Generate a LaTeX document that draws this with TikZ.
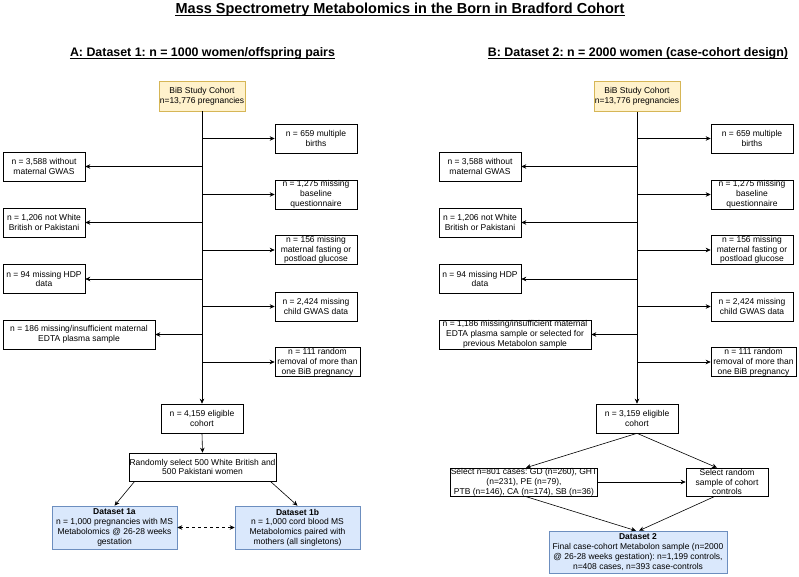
\documentclass[tikz,border=0pt]{standalone}
\usepackage{fontspec}
\setmainfont{Liberation Sans}
\usetikzlibrary{arrows.meta}
\frenchspacing

\definecolor{bibfill}{HTML}{FFF2CC}
\definecolor{bibline}{HTML}{D6B656}
\definecolor{dsfill}{HTML}{DAE8FC}
\definecolor{dsline}{HTML}{6C8EBF}

\begin{document}
\begin{tikzpicture}[x=1pt,y=-1pt]
            \tikzset{box/.style={draw, line width=0.6pt, align=center, inner sep=0pt,
                minimum width=82pt, minimum height=29pt, font=\fontsize{8.5}{9.8}\selectfont}}
            \tikzset{bibbox/.style={box, fill=bibfill, draw=bibline, minimum width=86pt, minimum height=30pt}}
            \tikzset{dsbox/.style={box, fill=dsfill, draw=dsline}}
            \tikzset{arr/.style={-{Stealth[length=5pt,width=4.5pt]}, line width=0.6pt}}
            \tikzset{dblarr/.style={{Stealth[length=5pt,width=4.5pt]}-{Stealth[length=5pt,width=4.5pt]}, line width=0.6pt, dashed}}
            \tikzset{heading/.style={anchor=base, inner sep=0pt, font=\bfseries\fontsize{12.4}{14}\selectfont}}
            \useasboundingbox (0,0) rectangle (799,577);
            % headings
            \node[heading, font=\bfseries\fontsize{14.5}{16}\selectfont] (title) at (400,13.5)
                {Mass Spectrometry Metabolomics in the Born in Bradford Cohort};
            \draw[line width=1pt] ([yshift=-1.8pt]title.base west) -- ([yshift=-1.8pt]title.base east);
            \node[heading] (headA) at (202.5,57) {A: Dataset 1: n = 1000 women/offspring pairs};
            \draw[line width=0.9pt] ([yshift=-1.8pt]headA.base west) -- ([yshift=-1.8pt]headA.base east);
            \node[heading] (headB) at (638,57) {B: Dataset 2: n = 2000 women (case-cohort design)};
            \draw[line width=0.9pt] ([yshift=-1.8pt]headB.base west) -- ([yshift=-1.8pt]headB.base east);
            % panel A
            \node[bibbox] (bibA) at (202,96) {BiB Study Cohort\\n=13,776 pregnancies};
            \node[box] (multA) at (316,138.5) {n = 659 multiple\\births};
            \node[box] (gwasA) at (44,166.5) {n = 3,588 without\\maternal GWAS};
            \node[box] (baseA) at (316,194.5) {n = 1,275 missing\\baseline\\questionnaire};
            \node[box] (ethA) at (44,222.5) {n = 1,206 not White\\British or Pakistani};
            \node[box] (glucA) at (316,250) {n = 156 missing\\maternal fasting or\\postload glucose};
            \node[box] (hdpA) at (44,279) {n = 94 missing HDP\\data};
            \node[box] (childA) at (316,306.5) {n = 2,424 missing\\child GWAS data};
            \node[box, minimum width=152pt] (edtaA) at (79,334.5) {n = 186 missing/insufficient maternal\\EDTA plasma sample};
            \node[box, minimum width=85pt] (remA) at (317.5,362) {n = 111 random\\removal of more than\\one BiB pregnancy};
            \node[box] (eligA) at (202,418.5) {n = 4,159 eligible\\cohort};
            \node[box, minimum width=147pt, minimum height=28pt] (randA) at (202.5,467)
                {Randomly select 500 White British and\\500 Pakistani women};
            \node[dsbox, minimum width=125pt, minimum height=43pt] (dsA) at (114.5,527.5)
                {\textbf{Dataset 1a}\\n = 1,000 pregnancies with MS\\Metabolomics @ 26-28 weeks\\gestation};
            \node[dsbox, minimum width=125pt, minimum height=43pt] (dsB) at (297.5,527.5)
                {\textbf{Dataset 1b}\\n = 1,000 cord blood MS\\Metabolomics paired with\\mothers (all singletons)};
            \draw[arr] (bibA.south) -- (eligA.north);
            \draw[arr] (bibA.south |- multA.west) -- (multA.west);
            \draw[arr] (bibA.south |- gwasA.east) -- (gwasA.east);
            \draw[arr] (bibA.south |- baseA.west) -- (baseA.west);
            \draw[arr] (bibA.south |- ethA.east) -- (ethA.east);
            \draw[arr] (bibA.south |- glucA.west) -- (glucA.west);
            \draw[arr] (bibA.south |- hdpA.east) -- (hdpA.east);
            \draw[arr] (bibA.south |- childA.west) -- (childA.west);
            \draw[arr] (bibA.south |- edtaA.east) -- (edtaA.east);
            \draw[arr] (bibA.south |- remA.west) -- (remA.west);
            \draw[arr] (eligA.south) -- (randA.north);
            \draw[arr] ([xshift=6pt]randA.south west) -- (dsA.north);
            \draw[arr] ([xshift=-6pt]randA.south east) -- (dsB.north);
            \draw[dblarr] (dsA.east) -- (dsB.west);
            % panel B
            \node[bibbox] (bibB) at (637,96.5) {BiB Study Cohort\\n=13,776 pregnancies};
            \node[box] (multB) at (752,138.5) {n = 659 multiple\\births};
            \node[box] (gwasB) at (480,166.5) {n = 3,588 without\\maternal GWAS};
            \node[box] (baseB) at (752,194.5) {n = 1,275 missing\\baseline\\questionnaire};
            \node[box] (ethB) at (480,222.5) {n = 1,206 not White\\British or Pakistani};
            \node[box] (glucB) at (752,250) {n = 156 missing\\maternal fasting or\\postload glucose};
            \node[box] (hdpB) at (480,279) {n = 94 missing HDP\\data};
            \node[box] (childB) at (752,306.5) {n = 2,424 missing\\child GWAS data};
            \node[box, minimum width=152pt] (edtaB) at (515,334.5)
                {n = 1,186 missing/insufficient maternal\\EDTA plasma sample or selected for\\previous Metabolon sample};
            \node[box, minimum width=85pt] (remB) at (753.5,362) {n = 111 random\\removal of more than\\one BiB pregnancy};
            \node[box] (eligB) at (637,418.5) {n = 3,159 eligible\\cohort};
            \node[box, minimum width=146pt, minimum height=28pt] (casesB) at (524,482)
                {Select n=801 cases: GD (n=260), GHT\\(n=231), PE (n=79),\\PTB (n=146), CA (n=174), SB (n=36)};
            \node[box, minimum height=28pt] (ctrlB) at (727,482) {Select random\\sample of cohort\\controls};
            \node[dsbox, minimum width=178pt, minimum height=42pt] (dsTwo) at (638,552)
                {\textbf{Dataset 2}\\Final case-cohort Metabolon sample (n=2000\\@ 26-28 weeks gestation): n=1,199 controls,\\n=408 cases, n=393 case-controls};
            \draw[arr] (bibB.south) -- (eligB.north);
            \draw[arr] (bibB.south |- multB.west) -- (multB.west);
            \draw[arr] (bibB.south |- gwasB.east) -- (gwasB.east);
            \draw[arr] (bibB.south |- baseB.west) -- (baseB.west);
            \draw[arr] (bibB.south |- ethB.east) -- (ethB.east);
            \draw[arr] (bibB.south |- glucB.west) -- (glucB.west);
            \draw[arr] (bibB.south |- hdpB.east) -- (hdpB.east);
            \draw[arr] (bibB.south |- childB.west) -- (childB.west);
            \draw[arr] (bibB.south |- edtaB.east) -- (edtaB.east);
            \draw[arr] (bibB.south |- remB.west) -- (remB.west);
            \draw[arr] (eligB.south) -- ([xshift=2pt]casesB.north);
            \draw[arr] (eligB.south) -- ([xshift=-10pt]ctrlB.north);
            \draw[arr] (casesB.east) -- (ctrlB.west);
            \draw[arr] ([xshift=1pt]casesB.south) -- ([xshift=-2pt]dsTwo.north);
            \draw[arr] ([xshift=-12pt]ctrlB.south) -- ([xshift=1pt]dsTwo.north);
\end{tikzpicture}
\end{document}
